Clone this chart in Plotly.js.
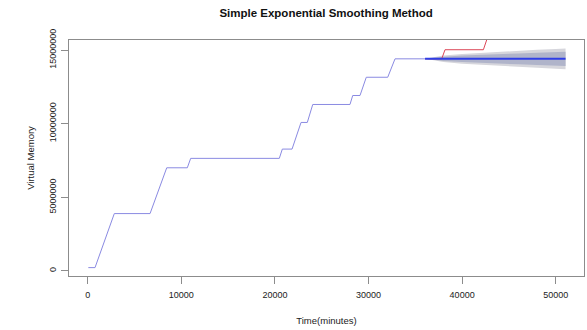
<!DOCTYPE html>
<html>
<head>
<meta charset="utf-8">
<script src="https://cdn.plot.ly/plotly-3.0.1.min.js"></script>
<style>
  html, body { margin: 0; padding: 0; background: #ffffff; }
  #chart { width: 587px; height: 330px; }
</style>
</head>
<body>
<div id="chart"></div>
<script>
// Observed virtual memory usage (step-like history)
const obsTime = [64, 780, 2840, 6660, 8440, 10640, 11000, 20470, 20790, 21830, 22790, 23460,
                 24040, 28020, 28310, 29090, 29760, 32050, 32830, 36040];
const obsMem  = [220000, 220000, 3890000, 3890000, 7000000, 7000000, 7640000, 7640000,
                 8270000, 8270000, 10080000, 10080000, 11300000, 11300000, 11910000, 11910000,
                 13150000, 13150000, 14400000, 14400000];

// Actual values over the forecast period
const testTime = [36040, 37820, 38170, 42270, 42630, 43100];
const testMem  = [14400000, 14400000, 15020000, 15020000, 15700000, 16300000];

// Simple exponential smoothing forecast with 80% / 95% intervals
const fcTime = [36040, 38000, 40000, 42000, 44000, 46000, 48000, 50000, 51050];
const fcMean = [14400000, 14400000, 14400000, 14400000, 14400000, 14400000, 14400000, 14400000, 14400000];
const lo80   = [14400000, 14250000, 14180000, 14120000, 14080000, 14030000, 13990000, 13950000, 13920000];
const hi80   = [14400000, 14550000, 14620000, 14680000, 14720000, 14770000, 14810000, 14850000, 14880000];
const lo95   = [14400000, 14180000, 14070000, 13990000, 13920000, 13850000, 13790000, 13730000, 13700000];
const hi95   = [14400000, 14620000, 14730000, 14810000, 14880000, 14950000, 15010000, 15070000, 15100000];

// Axis ticks
const xTicks = [0, 10000, 20000, 30000, 40000, 50000];
const xTickText = ["0", "10000", "20000", "30000", "40000", "50000"];
const yTicks = [0, 5000000, 10000000, 15000000];
const yTickText = ["0", "5000000", "10000000", "15000000"];

const traces = [
  { x: fcTime, y: lo95, mode: "lines", line: { width: 0 }, hoverinfo: "skip", showlegend: false },
  { x: fcTime, y: hi95, mode: "lines", line: { width: 0 }, fill: "tonexty",
    fillcolor: "#d6d6dc", hoverinfo: "skip", showlegend: false },
  { x: fcTime, y: lo80, mode: "lines", line: { width: 0 }, hoverinfo: "skip", showlegend: false },
  { x: fcTime, y: hi80, mode: "lines", line: { width: 0 }, fill: "tonexty",
    fillcolor: "#b0b4ca", hoverinfo: "skip", showlegend: false },
  { x: obsTime, y: obsMem, mode: "lines", line: { color: "#8a8ae2", width: 1 }, showlegend: false },
  { x: testTime, y: testMem, mode: "lines", line: { color: "#dc4656", width: 1 }, showlegend: false },
  { x: fcTime, y: fcMean, mode: "lines", line: { color: "#2f3ee6", width: 2 }, showlegend: false }
];

const axisCommon = {
  showgrid: false,
  zeroline: false,
  showline: true,
  mirror: true,
  linecolor: "#8c8c8c",
  linewidth: 1,
  ticks: "outside",
  ticklen: 7,
  tickcolor: "#8c8c8c",
  tickfont: { size: 9, color: "#222222" }
};

const layout = {
  width: 587,
  height: 330,
  margin: { l: 69, r: 3, t: 40, b: 54 },
  paper_bgcolor: "#ffffff",
  plot_bgcolor: "#ffffff",
  font: { family: "Liberation Sans, Arial, sans-serif", color: "#222222" },
  title: {
    text: "<b>Simple Exponential Smoothing Method</b>",
    font: { size: 11.5, color: "#111111" },
    x: 0.5555, xanchor: "center", y: 0.96, yanchor: "middle"
  },
  xaxis: Object.assign({}, axisCommon, {
    range: [-2000, 53020],
    tickmode: "array",
    tickvals: xTicks,
    ticktext: xTickText,
    ticklabelstandoff: 3,
    title: { text: "Time(minutes)", font: { size: 9.5 }, standoff: 18 }
  }),
  yaxis: Object.assign({}, axisCommon, {
    range: [-350000, 15680000],
    tickmode: "array",
    tickvals: yTicks,
    ticktext: yTickText,
    tickangle: -90,
    ticklabelstandoff: 1,
    title: { text: "Virtual Memory", font: { size: 9.5 }, standoff: 12 }
  }),
  showlegend: false
};

Plotly.newPlot("chart", traces, layout, { displayModeBar: false, staticPlot: true });
</script>
</body>
</html>
